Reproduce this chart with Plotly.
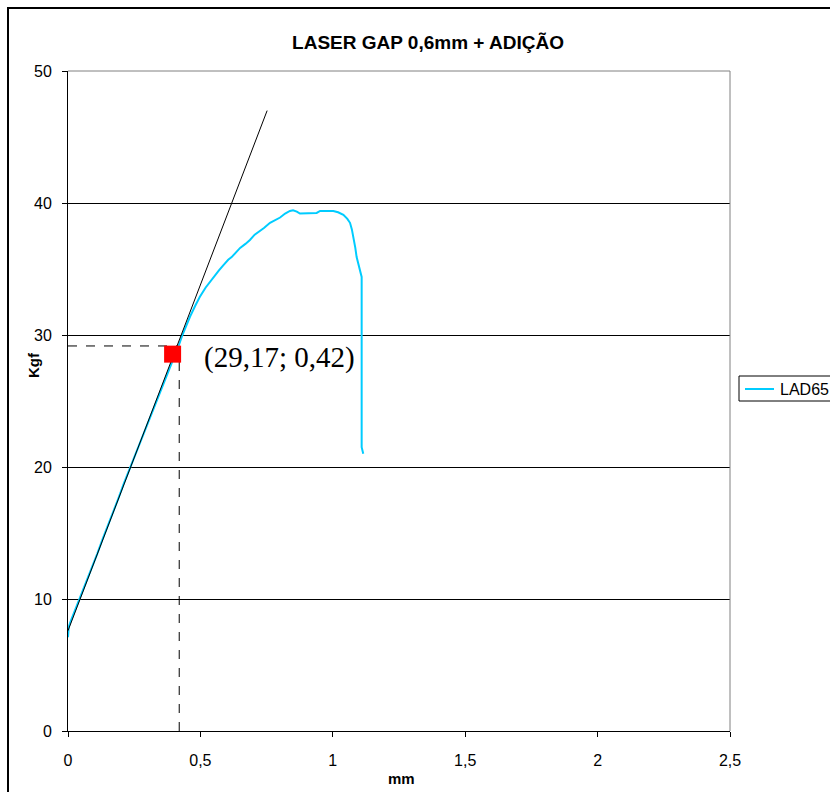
import plotly.graph_objects as go

# Load-displacement curve of specimen LAD65
displacement_mm = [0.000, 0.003, 0.010, 0.020, 0.035, 0.050, 0.070, 0.090, 0.110, 0.130,
                   0.150, 0.170, 0.190, 0.210, 0.230, 0.250, 0.270, 0.290, 0.310, 0.330,
                   0.350, 0.370, 0.390, 0.405, 0.420, 0.432, 0.445, 0.461, 0.480, 0.498,
                   0.520, 0.549, 0.570, 0.587, 0.605, 0.618, 0.635, 0.650, 0.670, 0.687,
                   0.705, 0.719, 0.740, 0.763, 0.785, 0.801, 0.820, 0.838, 0.850, 0.864,
                   0.876, 0.900, 0.925, 0.939, 0.952, 0.975, 1.002, 1.020, 1.040, 1.055,
                   1.065, 1.072, 1.078, 1.085, 1.090, 1.097, 1.103, 1.109, 1.109, 1.110,
                   1.109, 1.115]
load_kgf = [7.1, 7.9, 8.3, 8.8, 9.6, 10.3, 11.3, 12.4, 13.4, 14.5,
            15.5, 16.6, 17.6, 18.7, 19.7, 20.7, 21.8, 22.7, 23.8, 24.8,
            25.8, 26.8, 27.7, 28.5, 29.3, 30.0, 30.7, 31.4, 32.2, 32.9,
            33.6, 34.4, 34.9, 35.3, 35.7, 35.9, 36.3, 36.6, 36.9, 37.2,
            37.6, 37.8, 38.1, 38.5, 38.7, 38.9, 39.2, 39.4, 39.45, 39.35,
            39.2, 39.2, 39.2, 39.25, 39.4, 39.4, 39.4, 39.3, 39.1, 38.8,
            38.5, 38.0, 37.4, 36.6, 35.9, 35.4, 35.0, 34.4, 30.0, 25.0,
            21.5, 21.0]
series_name = "LAD65"

# Tangent to the elastic region
tangent_x = [0.0, 0.752]
tangent_y = [7.6, 47.0]

# Highlighted point on the curve and the annotated yield values
marker_x = [0.395]
marker_y = [28.55]
yield_load = 29.17
yield_disp = 0.42

x_ticks = [0, 0.5, 1, 1.5, 2, 2.5]
x_tick_text = ["0", "0,5", "1", "1,5", "2", "2,5"]
y_ticks = [0, 10, 20, 30, 40, 50]
y_tick_text = ["0", "10", "20", "30", "40", "50"]

FONT = "Liberation Sans, Arial, sans-serif"
CURVE_COLOR = "#00CCFF"

# plot area in pixels: x 68..730, y 71..731
PL, PR, PT, PB = 68, 730, 71, 731


def px(xp):
    return (xp - PL) / (PR - PL)


def py(yp):
    return (PB - yp) / (PB - PT)


fig = go.Figure()

# dashed guides to the axes
fig.add_trace(go.Scatter(x=[0, yield_disp], y=[yield_load, yield_load], mode="lines",
                         line=dict(color="black", width=1, dash="dash"),
                         showlegend=False, hoverinfo="skip"))
fig.add_trace(go.Scatter(x=[yield_disp, yield_disp], y=[0, yield_load], mode="lines",
                         line=dict(color="black", width=1, dash="dash"),
                         showlegend=False, hoverinfo="skip"))

fig.add_trace(go.Scatter(x=displacement_mm, y=load_kgf, mode="lines", name=series_name,
                         line=dict(color=CURVE_COLOR, width=2), showlegend=False))

fig.add_trace(go.Scatter(x=tangent_x, y=tangent_y, mode="lines",
                         line=dict(color="black", width=1),
                         showlegend=False, hoverinfo="skip"))

fig.add_trace(go.Scatter(x=marker_x, y=marker_y, mode="markers",
                         marker=dict(symbol="square", size=17, color="#FF0000",
                                     line=dict(width=0)),
                         showlegend=False, hoverinfo="skip"))

fig.add_annotation(x=0.505, y=28.3, xref="x", yref="y", xanchor="left", yanchor="middle",
                   text="(%s; %s)" % (f"{yield_load:.2f}".replace(".", ","),
                                      f"{yield_disp:.2f}".replace(".", ",")),
                   showarrow=False,
                   font=dict(family="Liberation Serif, Times New Roman, serif", size=29,
                             color="black"))

# axis titles
fig.add_annotation(x=px(401), y=py(778), xref="paper", yref="paper",
                   text="<b>mm</b>", showarrow=False, xanchor="center", yanchor="middle",
                   font=dict(family=FONT, size=15, color="black"))
fig.add_annotation(x=px(33), y=py(365), xref="paper", yref="paper",
                   text="<b>Kgf</b>", showarrow=False, textangle=-90,
                   xanchor="center", yanchor="middle",
                   font=dict(family=FONT, size=15, color="black"))

# outer chart frame (left and top edges; the rest runs off the canvas)
fig.add_shape(type="path", xref="paper", yref="paper",
              path=f"M {px(8)},{py(1200)} L {px(8)},{py(8)} L {px(1200)},{py(8)}",
              line=dict(color="black", width=2), layer="below")
# grey top/right border of the plot area
fig.add_shape(type="path", xref="paper", yref="paper", path="M 0,1 L 1,1 L 1,0",
              line=dict(color="#808080", width=1), layer="above")

# legend box, running off the right edge of the chart
fig.add_shape(type="rect", xref="paper", yref="paper",
              x0=px(739), x1=px(900), y0=py(401), y1=py(376),
              line=dict(color="black", width=1), fillcolor="white", layer="above")
fig.add_shape(type="line", xref="paper", yref="paper",
              x0=px(745), x1=px(774), y0=py(389), y1=py(389),
              line=dict(color=CURVE_COLOR, width=2), layer="above")
fig.add_annotation(x=px(778), y=py(389), xref="paper", yref="paper",
                   text=series_name, showarrow=False, xanchor="left", yanchor="middle",
                   font=dict(family=FONT, size=16, color="black"))

fig.update_layout(
    width=830, height=792,
    margin=dict(l=PL, r=830 - PR, t=PT, b=792 - PB, autoexpand=False),
    paper_bgcolor="white", plot_bgcolor="white",
    showlegend=False,
    title=dict(text="<b>LASER GAP 0,6mm + ADIÇÃO</b>",
               x=428 / 830, xanchor="center", xref="container",
               y=1 - 42 / 792, yanchor="middle", yref="container",
               font=dict(family=FONT, size=19, color="black")),
    font=dict(family=FONT, size=16, color="black"),
    xaxis=dict(range=[0, 2.5], tickvals=x_ticks, ticktext=x_tick_text,
               showgrid=False, zeroline=False, showline=True, linecolor="black",
               linewidth=1, ticks="outside", ticklen=5, tickcolor="black",
               ticklabelstandoff=10, tickfont=dict(family=FONT, size=16)),
    yaxis=dict(range=[0, 50], tickvals=y_ticks, ticktext=y_tick_text,
               showgrid=True, gridcolor="black", gridwidth=1,
               zeroline=False, showline=True, linecolor="black",
               linewidth=1, ticks="outside", ticklen=5, tickcolor="black",
               ticklabelstandoff=7, tickfont=dict(family=FONT, size=16)),
)

fig.write_html("out.html")
